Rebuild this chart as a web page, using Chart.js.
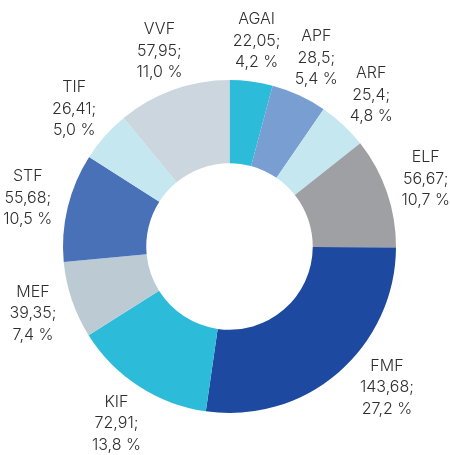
<!DOCTYPE html>
<html>
<head>
<meta charset="utf-8">
<script src="https://cdn.jsdelivr.net/npm/chart.js@4"></script>
<style>
html,body{margin:0;padding:0;background:#fff;}
canvas{display:block;}
</style>
</head>
<body>
<canvas id="c" width="450" height="455"></canvas>
<script>
const categories = ["AGAI","APF","ARF","ELF","FMF","KIF","MEF","STF","TIF","VVF"];
const values = [22.05, 28.5, 25.4, 56.67, 143.68, 72.91, 39.35, 55.68, 26.41, 57.95];
const valueLabels = ["22,05","28,5","25,4","56,67","143,68","72,91","39,35","55,68","26,41","57,95"];
const percentLabels = ["4,2 %","5,4 %","4,8 %","10,7 %","27,2 %","13,8 %","7,4 %","10,5 %","5,0 %","11,0 %"];
const colors = ["#2cbcd9","#789ed2","#c5e7f0","#9fa0a4","#1d4aa0","#2cbcd9","#bccad4","#4871b8","#c5e7f0","#cbd6de"];

const labelTweak = {4: {dx: 22, dy: -16}, 5: {dx: 0, dy: 3}};

const outerLabels = {
  id: 'outerLabels',
  afterDatasetsDraw(chart) {
    const ctx = chart.ctx;
    const meta = chart.getDatasetMeta(0);
    ctx.save();
    ctx.font = '300 16px Inter, "Noto Sans", sans-serif';
    ctx.fillStyle = '#2e2e2e';
    ctx.textAlign = 'center';
    ctx.textBaseline = 'middle';
    meta.data.forEach((arc, i) => {
      const p = arc.getProps(['x','y','startAngle','endAngle','outerRadius'], true);
      const mid = (p.startAngle + p.endAngle) / 2;
      const r = p.outerRadius + 41;
      const t = labelTweak[i] || {dx:0, dy:0};
      const cx = p.x + Math.cos(mid) * r + t.dx;
      const cy = p.y + Math.sin(mid) * r + t.dy;
      const lines = [categories[i], valueLabels[i] + ';', percentLabels[i]];
      const lh = 21.5;
      lines.forEach((s, k) => {
        ctx.fillText(s, cx, cy + (k - 1) * lh);
      });
    });
    ctx.restore();
  }
};

new Chart(document.getElementById('c'), {
  type: 'doughnut',
  data: {
    labels: categories,
    datasets: [{
      data: values,
      backgroundColor: colors,
      borderWidth: 0
    }]
  },
  options: {
    responsive: false,
    animation: false,
    cutout: '50%',
    layout: { padding: { left: 63, right: 54, top: 80, bottom: 42 } },
    plugins: {
      legend: { display: false },
      tooltip: { enabled: false }
    }
  },
  plugins: [outerLabels]
});
</script>
</body>
</html>
